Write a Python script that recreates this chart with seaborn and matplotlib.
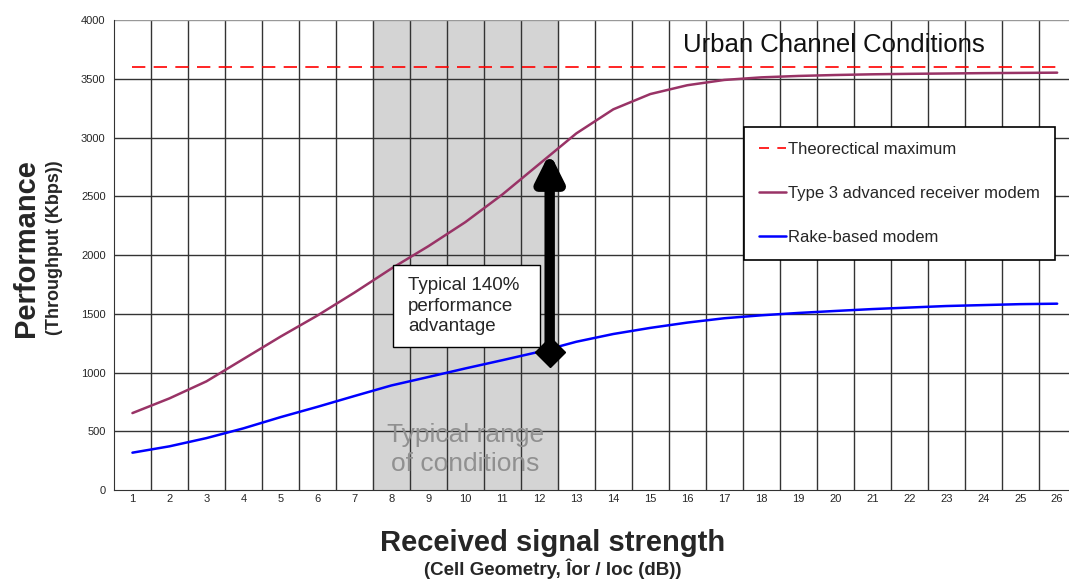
import numpy as np
import pandas as pd
import matplotlib
matplotlib.use("Agg")
import matplotlib.pyplot as plt
import seaborn as sns
from matplotlib.patches import Rectangle

# data
signal = list(range(1, 27))
type3 = [655, 780, 925, 1115, 1305, 1485, 1680, 1885, 2075, 2280, 2515, 2775,
         3035, 3240, 3370, 3445, 3490, 3512, 3524, 3532, 3538, 3542, 3545, 3548, 3550, 3552]
rake = [318, 372, 442, 525, 620, 708, 800, 890, 962, 1035, 1105, 1177,
        1262, 1328, 1380, 1425, 1462, 1487, 1507, 1524, 1540, 1553, 1566, 1574, 1582, 1586]
theo_max = 3600
typical_range = (7.5, 12.5)
adv_x = 12.28
adv_low, adv_high = 1175, 2870

df = pd.DataFrame({"signal": signal, "Type 3 advanced receiver modem": type3,
                   "Rake-based modem": rake})

sns.set_style("white")
plt.rcParams['font.family'] = ['Liberation Sans', 'DejaVu Sans']

fig = plt.figure(figsize=(10.69, 5.82), dpi=100)
ax = fig.add_axes([0.1066, 0.158, 0.8934, 0.8076])

ax.axvspan(*typical_range, color="#d4d4d4", zorder=0)

sns.lineplot(data=df, x="signal", y="Type 3 advanced receiver modem", ax=ax,
             color="#993366", lw=1.8, label="Type 3 advanced receiver modem", zorder=3)
sns.lineplot(data=df, x="signal", y="Rake-based modem", ax=ax,
             color="#0000ff", lw=1.8, label="Rake-based modem", zorder=3)
th, = ax.plot([signal[0], signal[-1]], [theo_max, theo_max], color="#ff0000",
              lw=1.2, ls=(0, (8, 5)), zorder=3, label="Theorectical maximum")

ax.set_xlim(0.5, 26.32)
ax.set_ylim(0, 4000)
ax.set_yticks(np.arange(0, 4001, 500))
ax.set_xticks(signal)
ax.set_xticks(np.arange(1.5, 26.5, 1), minor=True)
ax.tick_params(axis="x", which="major", length=0, labelsize=8, pad=3)
ax.tick_params(axis="x", which="minor", length=4, width=1, color="#333333", direction="out")
ax.tick_params(axis="y", labelsize=8, length=4, color="#333333", direction="out", pad=2)
ax.grid(False)
for v in np.arange(1.5, 26.5, 1):
    ax.axvline(v, color="#333333", lw=1, zorder=1)
for h in np.arange(500, 4001, 500):
    ax.axhline(h, color="#333333" if h < 4000 else "#999999", lw=1, zorder=1)
for s in ["top", "right"]:
    ax.spines[s].set_visible(False)
ax.spines["left"].set_color("#333333")
ax.spines["bottom"].set_color("#333333")
ax.set_xlabel("")
ax.set_ylabel("")

handles, labels = ax.get_legend_handles_labels()
order = [labels.index("Theorectical maximum"), labels.index("Type 3 advanced receiver modem"),
         labels.index("Rake-based modem")]
leg = ax.legend([handles[i] for i in order], [labels[i] for i in order],
                loc="upper left", bbox_to_anchor=(0.66, 0.772), fontsize=12,
                frameon=True, fancybox=False, edgecolor="black", framealpha=1,
                labelspacing=1.72, handlelength=1.6, handletextpad=0.15,
                borderpad=0.9, borderaxespad=0)
leg.get_frame().set_linewidth(1.2)
leg.set_zorder(5)
leg.get_lines()[0].set_linestyle((0, (6, 5)))

ax.text(0.754, 0.947, "Urban Channel Conditions", transform=ax.transAxes,
        ha="center", va="center", fontsize=18.5, color="#111111", zorder=4)

ax.text(10, 468, "Typical range", ha="center", va="center", fontsize=19,
        color="#909090", zorder=2)
ax.text(10, 225, "of conditions", ha="center", va="center", fontsize=19,
        color="#909090", zorder=2)

ax.add_patch(Rectangle((8.04, 1217), 3.97, 698, fc="white", ec="black", lw=1, zorder=6))
ax.text(8.45, 1566, "Typical 140%\nperformance\nadvantage", ha="left", va="center",
        fontsize=13.5, linespacing=1.25, zorder=7)

ax.annotate("", xy=(adv_x, adv_high), xytext=(adv_x, adv_low + 60),
            arrowprops=dict(arrowstyle="-|>,head_width=0.8,head_length=1.6",
                            color="black", lw=7.5, shrinkA=0, shrinkB=0), zorder=6)
ax.plot([adv_x], [adv_low], marker="D", ms=15, color="black", zorder=6)

fig.text(0.024, 0.574, "Performance", rotation=90, ha="center", va="center",
         fontsize=21, fontweight="bold")
fig.text(0.051, 0.574, "(Throughput (Kbps))", rotation=90, ha="center", va="center",
         fontsize=13, fontweight="bold")
fig.text(0.517, 0.067, "Received signal strength", ha="center", va="center",
         fontsize=21, fontweight="bold")
fig.text(0.517, 0.022, "(Cell Geometry, Îor / Ioc (dB))", ha="center", va="center",
         fontsize=13.5, fontweight="bold")

fig.savefig("out.png", dpi=100)
